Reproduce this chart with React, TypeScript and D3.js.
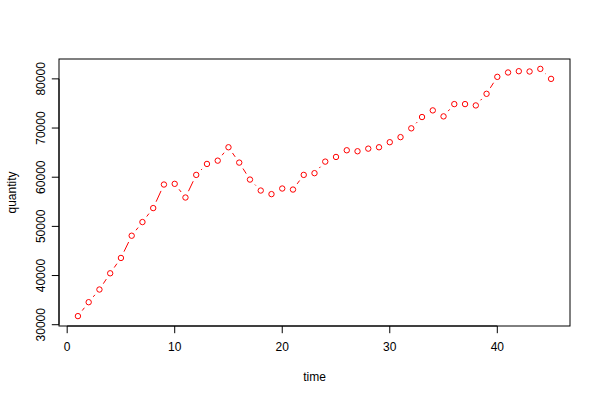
import React from "react";
import * as d3 from "d3";

const times = [1,2,3,4,5,6,7,8,9,10,11,12,13,14,15,16,17,18,19,20,21,22,23,24,25,26,27,28,29,30,31,32,33,34,35,36,37,38,39,40,41,42,43,44,45];
const quantity = [31750,34580,37160,40460,43580,48100,50880,53720,58510,58650,55870,60470,62700,63370,66090,62970,59520,57290,56560,57700,57490,60470,60820,63170,64120,65480,65280,65810,66090,67120,68150,69940,72240,73590,72370,74870,74870,74600,76960,80410,81300,81560,81500,82030,80000];
const xTicks = [0,10,20,30,40];
const yTicks = [30000,40000,50000,60000,70000,80000];
const xLabel = "time";
const yLabel = "quantity";

export default function App() {
  const W = 600, H = 400;
  const left = 59, right = 570, top = 59, bottom = 326;
  const xMin = d3.min(times)!, xMax = d3.max(times)!;
  const yMin = d3.min(quantity)!, yMax = d3.max(quantity)!;
  const xPad = (xMax - xMin) * 0.04, yPad = (yMax - yMin) * 0.04;
  const x = d3.scaleLinear().domain([xMin - xPad, xMax + xPad]).range([left, right]);
  const y = d3.scaleLinear().domain([yMin - yPad, yMax + yPad]).range([bottom, top]);
  const pts = times.map((t, i) => [x(t), y(quantity[i])] as [number, number]);
  const gap = 7;
  const segs: string[] = [];
  for (let i = 0; i < pts.length - 1; i++) {
    const [x0, y0] = pts[i], [x1, y1] = pts[i + 1];
    const d = Math.hypot(x1 - x0, y1 - y0);
    if (d <= 2 * gap) continue;
    const ux = (x1 - x0) / d, uy = (y1 - y0) / d;
    segs.push(`M${x0 + ux * gap},${y0 + uy * gap}L${x1 - ux * gap},${y1 - uy * gap}`);
  }
  const font = "'Liberation Sans', Arial, Helvetica, sans-serif";
  const tickLen = 7.2;
  return (
    <svg width={W} height={H} style={{ position: "absolute", left: 0, top: 0, background: "white" }} fontFamily={font} fontSize={12}>
      <rect x={0} y={0} width={W} height={H} fill="white" />
      <rect x={left} y={top} width={right - left} height={bottom - top} fill="none" stroke="#000" strokeWidth={1} />
      <line x1={x(xTicks[0])} x2={x(xTicks[xTicks.length - 1])} y1={bottom} y2={bottom} stroke="#000" />
      {xTicks.map(t => (
        <g key={"x" + t}>
          <line x1={x(t)} x2={x(t)} y1={bottom} y2={bottom + tickLen} stroke="#000" />
          <text x={x(t)} y={351} textAnchor="middle">{t}</text>
        </g>
      ))}
      <line x1={left} x2={left} y1={y(yTicks[0])} y2={y(yTicks[yTicks.length - 1])} stroke="#000" />
      {yTicks.map(t => (
        <g key={"y" + t}>
          <line x1={left} x2={left - tickLen} y1={y(t)} y2={y(t)} stroke="#000" />
          <text transform={`translate(44.6,${y(t)}) rotate(-90)`} textAnchor="middle">{t}</text>
        </g>
      ))}
      <text x={(left + right) / 2} y={380.5} textAnchor="middle">{xLabel}</text>
      <text transform={`translate(15.8,${(top + bottom) / 2}) rotate(-90)`} textAnchor="middle">{yLabel}</text>
      <path d={segs.join("")} stroke="#ff0000" strokeWidth={1} fill="none" />
      {pts.map(([px, py], i) => (
        <circle key={i} cx={px} cy={py} r={2.7} fill="none" stroke="#ff0000" strokeWidth={1} />
      ))}
    </svg>
  );
}
